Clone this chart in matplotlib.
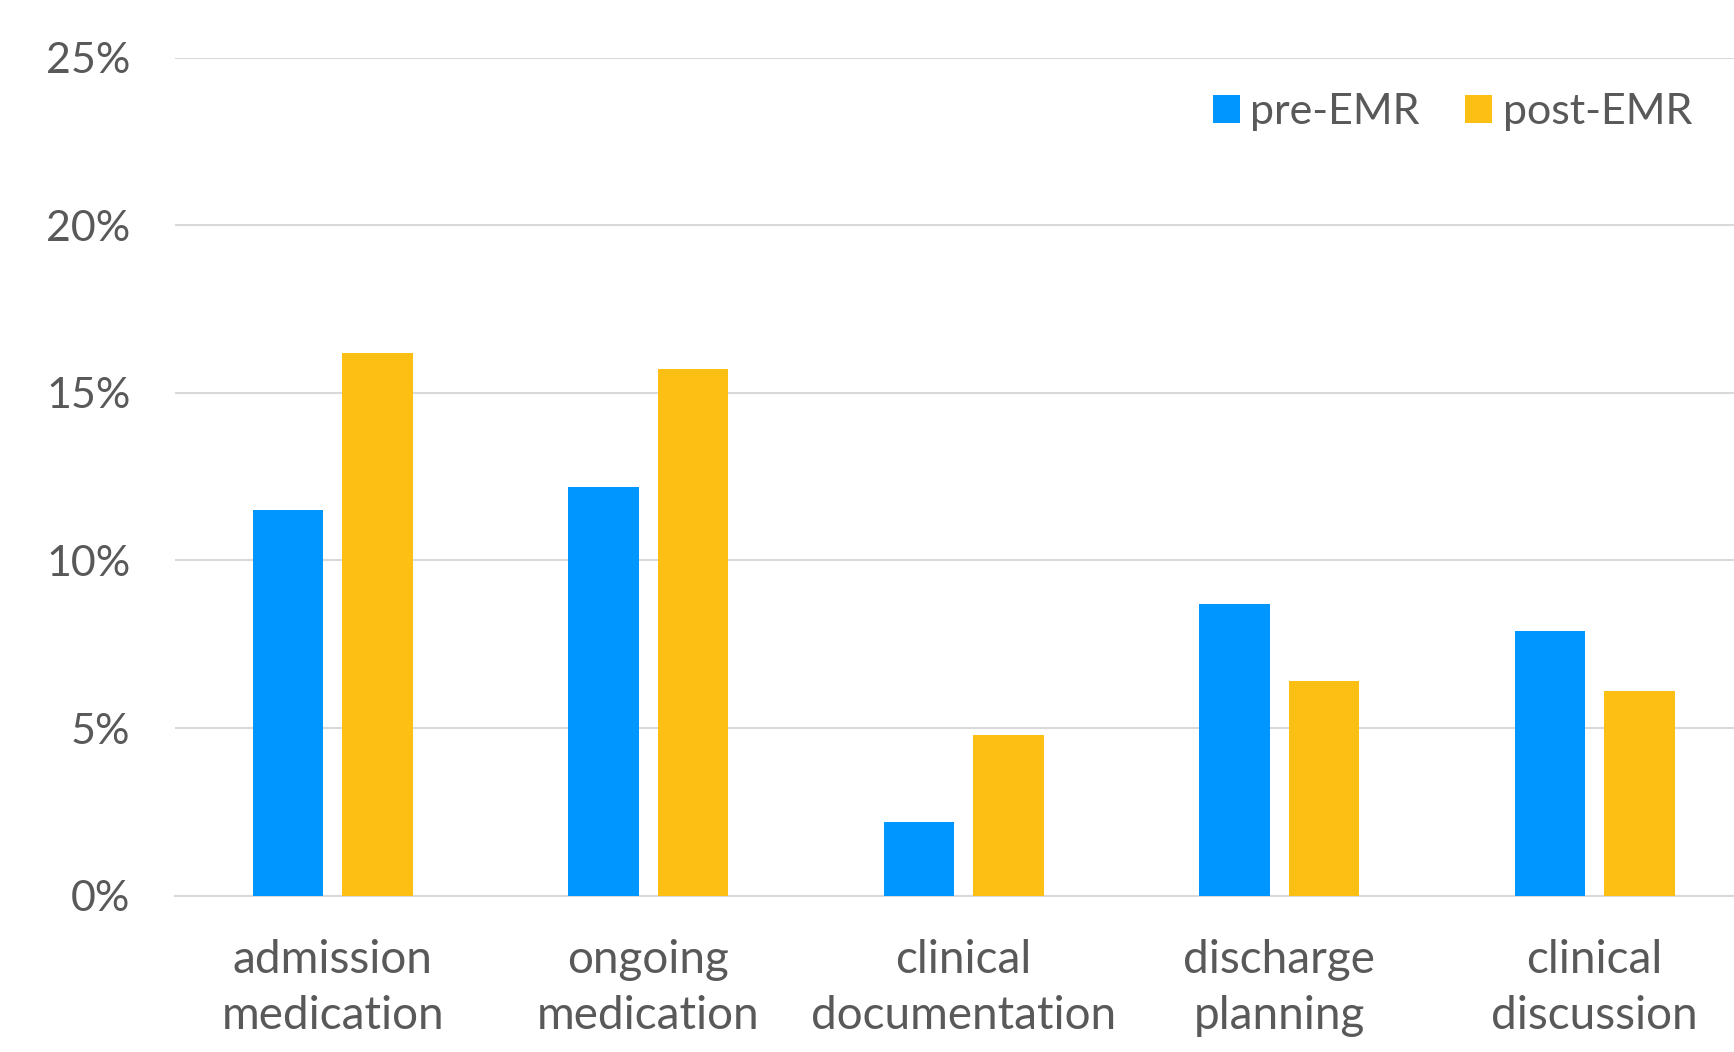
import numpy as np
import matplotlib as mpl
import matplotlib.pyplot as plt
from matplotlib.ticker import FuncFormatter

categories = ["admission\nmedication", "ongoing\nmedication", "clinical\ndocumentation",
              "discharge\nplanning", "clinical\ndiscussion"]
pre_emr = [11.5, 12.2, 2.2, 8.7, 7.9]
post_emr = [16.2, 15.7, 4.8, 6.4, 6.1]
yticks = [0, 5, 10, 15, 20, 25]

blue = "#0096FF"
gold = "#FDBF14"
txt = "#595959"

plt.rcParams['font.family'] = ['Lato', 'DejaVu Sans']

fig = plt.figure(figsize=(17.34, 10.52), dpi=100)
# the plot area runs a little past the right edge, as in the original
ax = fig.add_axes([0.1009, 0.1485, 0.9097, 0.7968])

x = np.arange(len(categories))
w = 0.224
ax.bar(x - 0.142, pre_emr, width=w, color=blue, label="pre-EMR", zorder=3)
ax.bar(x + 0.142, post_emr, width=w, color=gold, label="post-EMR", zorder=3)

ax.set_xlim(-0.5, 4.5)
ax.set_ylim(0, 25)
ax.set_yticks(yticks)
ax.yaxis.set_major_formatter(FuncFormatter(lambda v, p: f"{v:.0f}%"))
ax.grid(axis='y', color="#D9D9D9", linewidth=1.5, zorder=0)
for s in ["top", "right", "left"]:
    ax.spines[s].set_visible(False)
ax.spines["bottom"].set_color("#D9D9D9")
ax.spines["bottom"].set_linewidth(1.5)

ax.set_xticks(x)
ax.set_xticklabels(categories, linespacing=1.42)
ax.tick_params(axis='both', length=0, colors=txt)
ax.tick_params(axis='x', pad=31, labelsize=33)
ax.tick_params(axis='y', pad=32, labelsize=31)

ax.legend(loc='center right', bbox_to_anchor=(1692 / 1734, 1 - 112 / 1052),
          bbox_transform=fig.transFigure, ncol=2, frameon=False, fontsize=31,
          labelcolor=txt, handlelength=0.62, handleheight=0.62, handletextpad=0.25,
          columnspacing=1.05, borderpad=0, borderaxespad=0)

fig.savefig("out.png", dpi=100)
